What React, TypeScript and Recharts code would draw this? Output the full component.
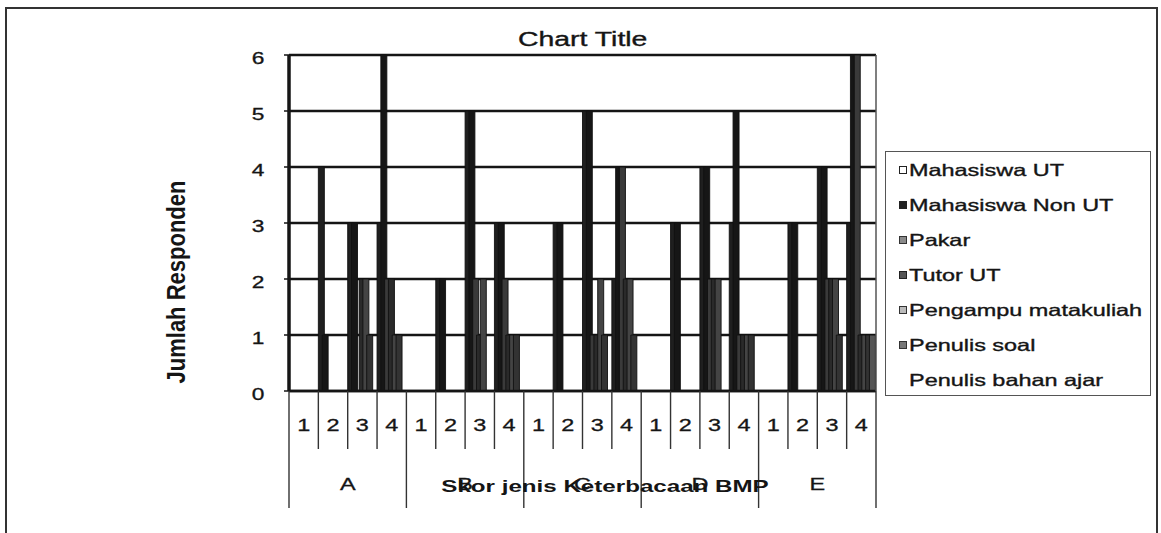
import React from "react";
import { BarChart, Bar, XAxis, YAxis, CartesianGrid } from "recharts";

// aspek (A-E) x skor (1-4)
const GROUPS = ["A", "B", "C", "D", "E"];
const SCORES = ["1", "2", "3", "4"];
const SERIES = [
  "Mahasiswa UT",
  "Mahasiswa Non UT",
  "Pakar",
  "Tutor UT",
  "Pengampu matakuliah",
  "Penulis soal",
  "Penulis bahan ajar",
];

//                         A1..A4      B1..B4      C1..C4      D1..D4      E1..E4
const mahasiswaUT = [0, 4, 3, 3, 0, 2, 5, 3, 0, 3, 5, 2, 0, 3, 4, 3, 0, 3, 4, 3];
const mahasiswaNonUT = [0, 1, 3, 6, 0, 2, 5, 3, 0, 3, 5, 4, 0, 3, 4, 5, 0, 3, 4, 6];
const pakar = [0, 0, 0, 2, 0, 0, 2, 2, 0, 0, 1, 4, 0, 0, 2, 1, 0, 0, 2, 6];
const tutorUT = [0, 0, 2, 2, 0, 0, 1, 1, 0, 0, 1, 2, 0, 0, 2, 1, 0, 0, 2, 1];
const pengampu = [0, 0, 2, 1, 0, 0, 2, 1, 0, 0, 2, 2, 0, 0, 2, 1, 0, 0, 2, 1];
const penulisSoal = [0, 0, 1, 1, 0, 0, 0, 1, 0, 0, 1, 1, 0, 0, 0, 1, 0, 0, 1, 1];
const penulisBahanAjar = [0, 0, 0, 0, 0, 0, 0, 0, 0, 0, 0, 0, 0, 0, 0, 0, 0, 0, 0, 1];

const Y_TICKS = [0, 1, 2, 3, 4, 5, 6];

const SERIES_VALUES = [mahasiswaUT, mahasiswaNonUT, pakar, tutorUT, pengampu, penulisSoal, penulisBahanAjar];
const BAR_FILLS = ["#1f1f1f", "#161616", "#3a3a3a", "#2a2a2a", "#444", "#333", "#555"];

const CATS = GROUPS.flatMap((g) => SCORES.map((s) => g + s));
const rows = CATS.map((key, i) => {
  const row: Record<string, string | number> = { key };
  SERIES.forEach((name, s) => (row[name] = SERIES_VALUES[s][i]));
  return row;
});

const W = 1161;
const H = 533;
const PLOT_LEFT = 289;
const PLOT_RIGHT = 876;
const PLOT_TOP = 55;
const PLOT_BOTTOM = 391;
const BAND = (PLOT_RIGHT - PLOT_LEFT) / CATS.length;
const INK = "#151515";
const STRETCH = 1.42; // the scan is wider than tall
const heavy: React.CSSProperties = { WebkitTextStroke: "0.35px #151515" };

function YTick({ y, payload }: any) {
  return (
    <text
      transform={`translate(258,${y + 3}) scale(${STRETCH},1)`}
      textAnchor="middle"
      dominantBaseline="central"
      fontSize={16}
      fill={INK}
      stroke={INK}
      strokeWidth={0.3}
    >
      {payload.value}
    </text>
  );
}

function XTick({ x, payload, index }: any) {
  const i = payload?.index ?? index;
  const key = String(payload.value);
  const left = x - BAND / 2;
  const isGroupStart = i % SCORES.length === 0;
  return (
    <g>
      <line x1={left} x2={left} y1={PLOT_BOTTOM} y2={isGroupStart ? 508 : 449} stroke="#333" strokeWidth={1.4} />
      {i === CATS.length - 1 && (
        <line x1={x + BAND / 2} x2={x + BAND / 2} y1={PLOT_BOTTOM} y2={508} stroke="#333" strokeWidth={1.4} />
      )}
      <text
        transform={`translate(${x},431) scale(${STRETCH},1)`}
        textAnchor="middle"
        fontSize={16.5}
        fill={INK}
        stroke={INK}
        strokeWidth={0.3}
      >
        {key.slice(1)}
      </text>
      {i % SCORES.length === 1 && (
        <text
          transform={`translate(${x + BAND / 2},490) scale(${STRETCH},1)`}
          textAnchor="middle"
          fontSize={16.5}
          fill={INK}
          stroke={INK}
          strokeWidth={0.3}
        >
          {key.slice(0, 1)}
        </text>
      )}
    </g>
  );
}

const MARKERS: React.CSSProperties[] = [
  { background: "#fff", border: "1.5px solid #222" },
  { background: "#222", border: "1.5px solid #222" },
  { background: "#8a8a8a", border: "1.5px solid #333" },
  { background: "#555", border: "1.5px solid #222" },
  { background: "#bbb", border: "1.5px solid #333" },
  { background: "#777", border: "1.5px solid #333" },
  { background: "transparent", border: "none" },
];

function LegendBox() {
  return (
    <div
      style={{
        position: "absolute",
        left: 885,
        top: 151,
        width: 266,
        height: 245,
        border: "1.5px solid #555",
        boxSizing: "border-box",
      }}
    >
      {SERIES.map((name, i) => (
        <div
          key={name}
          style={{ position: "absolute", left: 13, top: 8 + i * 35, height: 20, display: "flex", alignItems: "center" }}
        >
          <span style={{ width: 8, height: 8, marginRight: 2, boxSizing: "border-box", ...MARKERS[i] }} />
          <span
            style={{
              fontSize: 16.5,
              color: INK,
              whiteSpace: "nowrap",
              display: "inline-block",
              transform: `scaleX(${STRETCH})`,
              transformOrigin: "left center",
              ...heavy,
            }}
          >
            {name}
          </span>
        </div>
      ))}
    </div>
  );
}

export default function App() {
  return (
    <div
      style={{
        position: "absolute",
        left: 0,
        top: 0,
        width: W,
        height: H,
        background: "#fff",
        overflow: "hidden",
        fontFamily: '"Liberation Sans", Arial, sans-serif',
      }}
    >
      <div
        style={{
          position: "absolute",
          left: 5,
          top: 7,
          width: 1153,
          height: 560,
          border: "2.5px solid #333",
          boxSizing: "border-box",
        }}
      />
      <BarChart
        width={W}
        height={H}
        data={rows}
        margin={{ top: PLOT_TOP, right: W - PLOT_RIGHT - 1, left: PLOT_LEFT - 60, bottom: H - PLOT_BOTTOM - 120 }}
        barCategoryGap={0}
        barGap={-2.2}
        style={{ position: "absolute", left: 0, top: 0 }}
      >
        <CartesianGrid vertical={false} stroke={INK} strokeWidth={2.4} />
        <XAxis
          dataKey="key"
          interval={0}
          height={120}
          tickLine={false}
          axisLine={{ stroke: INK, strokeWidth: 2.6 }}
          tick={<XTick />}
        />
        <YAxis
          domain={[0, 6]}
          ticks={Y_TICKS}
          width={60}
          tickSize={5}
          axisLine={{ stroke: INK, strokeWidth: 3.5 }}
          tickLine={{ stroke: INK, strokeWidth: 1.5 }}
          tick={<YTick />}
        />
        <YAxis yAxisId="r" orientation="right" domain={[0, 6]} width={1} tick={false} tickLine={false} axisLine={{ stroke: "#555", strokeWidth: 1.5 }} />
        {SERIES.map((name, s) => (
          <Bar key={name} dataKey={name} fill={BAR_FILLS[s]} stroke="#111" strokeWidth={0.9} isAnimationActive={false} />
        ))}
      </BarChart>

      <div
        style={{
          position: "absolute",
          left: 0,
          width: 1165,
          top: 28,
          textAlign: "center",
          fontSize: 20,
          color: INK,
          transform: `scaleX(${STRETCH})`,
          transformOrigin: "582px 0",
          ...heavy,
        }}
      >
        Chart Title
      </div>

      <div
        style={{
          position: "absolute",
          left: 177,
          top: 282,
          whiteSpace: "nowrap",
          fontSize: 22,
          fontWeight: "bold",
          color: INK,
          transform: `translate(-50%,-50%) rotate(-90deg) scaleY(1.2)`,
        }}
      >
        Jumlah Responden
      </div>

      <div
        style={{
          position: "absolute",
          left: 605,
          top: 487,
          whiteSpace: "nowrap",
          fontSize: 17,
          fontWeight: "bold",
          color: INK,
          transform: `translate(-50%,-50%) scaleX(${STRETCH})`,
        }}
      >
        Skor jenis Keterbacaan BMP
      </div>

      <LegendBox />
    </div>
  );
}
